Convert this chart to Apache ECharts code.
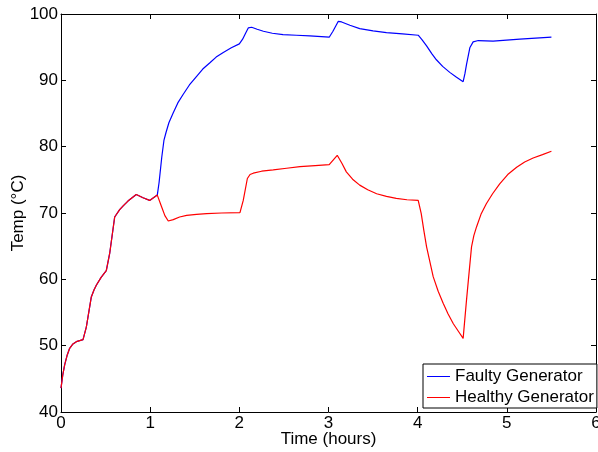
<!DOCTYPE html>
<html>
<head>
<meta charset="utf-8">
<script src="https://cdn.jsdelivr.net/npm/echarts@6/dist/echarts.min.js"></script>
<style>
    html, body { margin: 0; padding: 0; background: #fff; }
    #chart { width: 598px; height: 452px; }
</style>
</head>
<body>
<div id="chart"></div>
<script>
// shared part of both curves (before the fault shows up)
let sharedTime = [0, 0.02, 0.041, 0.07, 0.097, 0.13, 0.172, 0.247, 0.284, 0.34, 0.37, 0.396, 0.45, 0.508, 0.546, 0.602, 0.658, 0.70, 0.751, 0.844, 0.92, 0.994, 1.08];
let sharedTemp = [43.6, 45.6, 47.1, 48.6, 49.6, 50.2, 50.6, 50.9, 52.8, 57.35, 58.4, 59.1, 60.3, 61.3, 63.9, 69.4, 70.5, 71.1, 71.8, 72.8, 72.3, 71.9, 72.7];

let faultyTime = [1.10, 1.13, 1.155, 1.177, 1.21, 1.259, 1.31, 1.371, 1.44, 1.521, 1.59, 1.670, 1.74, 1.82, 1.91, 2.0, 2.037, 2.07, 2.10, 2.138, 2.2, 2.27, 2.37, 2.49, 2.64, 2.79, 3.008, 3.05, 3.11, 3.147, 3.24, 3.35, 3.50, 3.65, 3.83, 4.006, 4.05, 4.10, 4.16, 4.21, 4.28, 4.36, 4.436, 4.51, 4.53, 4.548, 4.585, 4.622, 4.68, 4.846, 5.146, 5.50];
let faultyTemp = [74.6, 78.4, 81.0, 82.1, 83.6, 85.1, 86.6, 87.9, 89.3, 90.6, 91.7, 92.65, 93.5, 94.2, 94.9, 95.5, 96.2, 97.1, 97.9, 98.0, 97.7, 97.4, 97.1, 96.9, 96.8, 96.7, 96.5, 97.4, 98.9, 98.8, 98.3, 97.8, 97.45, 97.2, 97.0, 96.8, 96.1, 95.2, 94.0, 93.1, 92.1, 91.2, 90.45, 89.8, 91.0, 92.4, 94.9, 95.8, 96.0, 95.9, 96.2, 96.5];

let healthyTime = [1.129, 1.165, 1.203, 1.259, 1.33, 1.409, 1.52, 1.633, 1.8, 2.007, 2.044, 2.09, 2.12, 2.156, 2.25, 2.38, 2.53, 2.68, 2.85, 3.008, 3.098, 3.15, 3.20, 3.27, 3.35, 3.44, 3.54, 3.65, 3.76, 3.88, 4.006, 4.04, 4.07, 4.10, 4.174, 4.23, 4.286, 4.34, 4.40, 4.46, 4.51, 4.548, 4.58, 4.604, 4.63, 4.66, 4.71, 4.77, 4.84, 4.92, 5.01, 5.11, 5.20, 5.295, 5.40, 5.50];
let healthyTemp = [70.9, 69.6, 68.8, 69.0, 69.4, 69.65, 69.8, 69.9, 70.0, 70.06, 71.9, 75.2, 75.8, 76.0, 76.3, 76.5, 76.75, 77.0, 77.15, 77.3, 78.7, 77.5, 76.2, 75.1, 74.2, 73.5, 72.9, 72.5, 72.2, 72.0, 71.9, 69.9, 67.3, 64.9, 60.4, 58.2, 56.4, 54.8, 53.3, 52.1, 51.1, 56.9, 61.5, 64.9, 66.6, 67.9, 69.8, 71.4, 72.9, 74.4, 75.8, 76.9, 77.7, 78.3, 78.8, 79.3];

let seriesNames = ['Faulty Generator', 'Healthy Generator'];

let _font = "'Liberation Sans', Arial, Helvetica, sans-serif";

let _pairs = function(xs, ys){
    return xs.map((x, i) => [x, ys[i]]);
};

let _axisBase = {
    axisLine: { show: true, onZero: false, lineStyle: { color: '#000', width: 1 } },
    axisTick: { show: true, inside: true, length: 5, lineStyle: { color: '#000' } },
    splitLine: { show: false }
};

let chart = echarts.init(document.getElementById('chart'), null, { renderer: 'canvas' });

chart.setOption({
    animation: false,
    backgroundColor: '#fff',
    textStyle: { fontFamily: _font },
    grid: { left: 61, right: 2, top: 14, bottom: 40, containLabel: false, outerBoundsMode: 'none' },
    legend: {
        orient: 'vertical',
        left: 423,
        top: 364,
        padding: [4, 3, 2, 4],
        itemGap: 4,
        itemWidth: 23,
        itemHeight: 1,
        icon: 'rect',
        borderColor: '#000',
        borderWidth: 1,
        backgroundColor: '#fff',
        borderRadius: 0,
        textStyle: { fontSize: 17, color: '#000', fontFamily: _font },
        data: seriesNames
    },
    xAxis: [
        Object.assign({}, _axisBase, {
            type: 'value', min: 0, max: 6, interval: 1, position: 'bottom',
            name: 'Time (hours)', nameLocation: 'middle', nameGap: 19, nameMoveOverlap: false,
            nameTextStyle: { fontSize: 17, color: '#000', fontFamily: _font },
            axisLabel: { fontSize: 17, color: '#000', margin: 3, fontFamily: _font }
        }),
        Object.assign({}, _axisBase, {
            type: 'value', min: 0, max: 6, interval: 1, position: 'top',
            axisLabel: { show: false }
        })
    ],
    yAxis: [
        Object.assign({}, _axisBase, {
            type: 'value', min: 40, max: 100, interval: 10, position: 'left',
            name: 'Temp (°C)', nameLocation: 'middle', nameGap: 34, nameRotate: 90, nameMoveOverlap: false,
            nameTextStyle: { fontSize: 17, color: '#000', fontFamily: _font },
            axisLabel: { fontSize: 17, color: '#000', margin: 3, fontFamily: _font }
        }),
        Object.assign({}, _axisBase, {
            type: 'value', min: 40, max: 100, interval: 10, position: 'right',
            axisLabel: { show: false }
        })
    ],
    series: [
        {
            name: seriesNames[0],
            type: 'line',
            symbol: 'none',
            color: '#0000ff',
            lineStyle: { width: 1.2, color: '#0000ff' },
            data: _pairs(sharedTime.concat(faultyTime), sharedTemp.concat(faultyTemp))
        },
        {
            name: seriesNames[1],
            type: 'line',
            symbol: 'none',
            color: '#ff0000',
            lineStyle: { width: 1.2, color: '#ff0000' },
            data: _pairs(sharedTime.concat(healthyTime), sharedTemp.concat(healthyTemp))
        }
    ]
});
</script>
</body>
</html>
